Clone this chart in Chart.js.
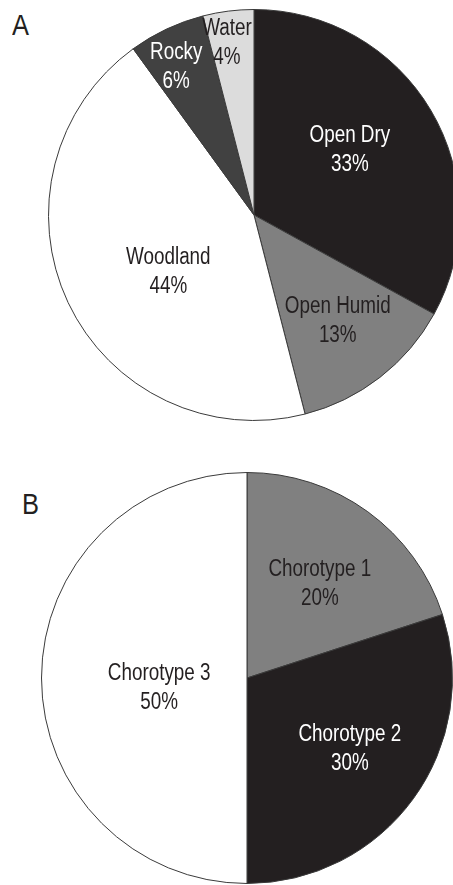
<!DOCTYPE html>
<html>
<head>
<meta charset="utf-8">
<script src="https://cdn.jsdelivr.net/npm/chart.js@4"></script>
<style>
  html, body { margin: 0; padding: 0; background: #fff; overflow: hidden; width: 453px; height: 885px; }
  .panel { position: absolute; font-family: "Liberation Sans", Arial, sans-serif; font-size: 30px; line-height: 30px; color: #231f20; transform: scaleX(0.85); transform-origin: left top; }
  canvas { position: absolute; }
</style>
</head>
<body>
<div class="panel" style="left:12px; top:10px;">A</div>
<div class="panel" style="left:22px; top:489px;">B</div>
<canvas id="chartA" width="414" height="414" style="left:47px; top:8px;"></canvas>
<canvas id="chartB" width="414" height="414" style="left:40px; top:471px;"></canvas>
<script>
// panel A: habitat use
var habitatLabels = ['Open Dry', 'Open Humid', 'Woodland', 'Rocky', 'Water'];
var habitatValues = [33, 13, 44, 6, 4];
// panel B: chorotypes
var chorotypeLabels = ['Chorotype 1', 'Chorotype 2', 'Chorotype 3'];
var chorotypeValues = [20, 30, 50];

var labelFont = '23px "Liberation Sans", Arial, sans-serif';
var narrow = 0.82; // squeeze Liberation Sans to look like the narrow face of the original

function narrowText(ctx, text, x, y) {
    ctx.save();
    ctx.translate(x, y);
    ctx.scale(narrow, 1);
    ctx.fillText(text, 0, 0);
    ctx.restore();
}

// writes "name / NN%" inside each slice
var sliceLabels = {
    id: 'sliceLabels',
    afterDatasetsDraw: function(chart, args, opts) {
        var ctx = chart.ctx;
        var ds = chart.data.datasets[0];
        var meta = chart.getDatasetMeta(0);
        ctx.save();
        ctx.font = labelFont;
        ctx.textAlign = 'center';
        ctx.textBaseline = 'middle';
        meta.data.forEach(function(arc, i) {
            var p = arc.getProps(['x', 'y', 'startAngle', 'endAngle', 'outerRadius'], true);
            var mid = (p.startAngle + p.endAngle) / 2 + (opts.shift[i] || 0) * Math.PI / 180;
            var r = p.outerRadius * opts.radius[i];
            var x = p.x + Math.cos(mid) * r;
            var y = p.y + Math.sin(mid) * r;
            ctx.fillStyle = opts.colors[i];
            narrowText(ctx, chart.data.labels[i], x, y - 12);
            narrowText(ctx, ds.data[i] + '%', x, y + 17);
        });
        ctx.restore();
    }
};

function makePie(id, labels, values, fills, textColors, radius, shift) {
    return new Chart(document.getElementById(id).getContext('2d'), {
        type: 'pie',
        data: {
            labels: labels,
            datasets: [{
                data: values,
                backgroundColor: fills,
                borderColor: '#3a3a3a',
                borderWidth: 1
            }]
        },
        options: {
            responsive: false,
            animation: false,
            events: [],
            layout: { padding: 1 },
            plugins: {
                legend: { display: false },
                tooltip: { enabled: false },
                sliceLabels: { colors: textColors, radius: radius, shift: shift }
            }
        },
        plugins: [sliceLabels]
    });
}

makePie('chartA', habitatLabels, habitatValues,
    ['#231f20', '#808080', '#ffffff', '#414141', '#dcdcdc'],
    ['#ffffff', '#231f20', '#231f20', '#ffffff', '#231f20'],
    [0.57, 0.649, 0.495, 0.825, 0.86],
    [-4.5, -1.1, -7.4, -2.1, -1.6]);

makePie('chartB', chorotypeLabels, chorotypeValues,
    ['#808080', '#231f20', '#ffffff'],
    ['#231f20', '#ffffff', '#231f20'],
    [0.589, 0.602, 0.429],
    [1, -2.2, -5.2]);
</script>
</body>
</html>
